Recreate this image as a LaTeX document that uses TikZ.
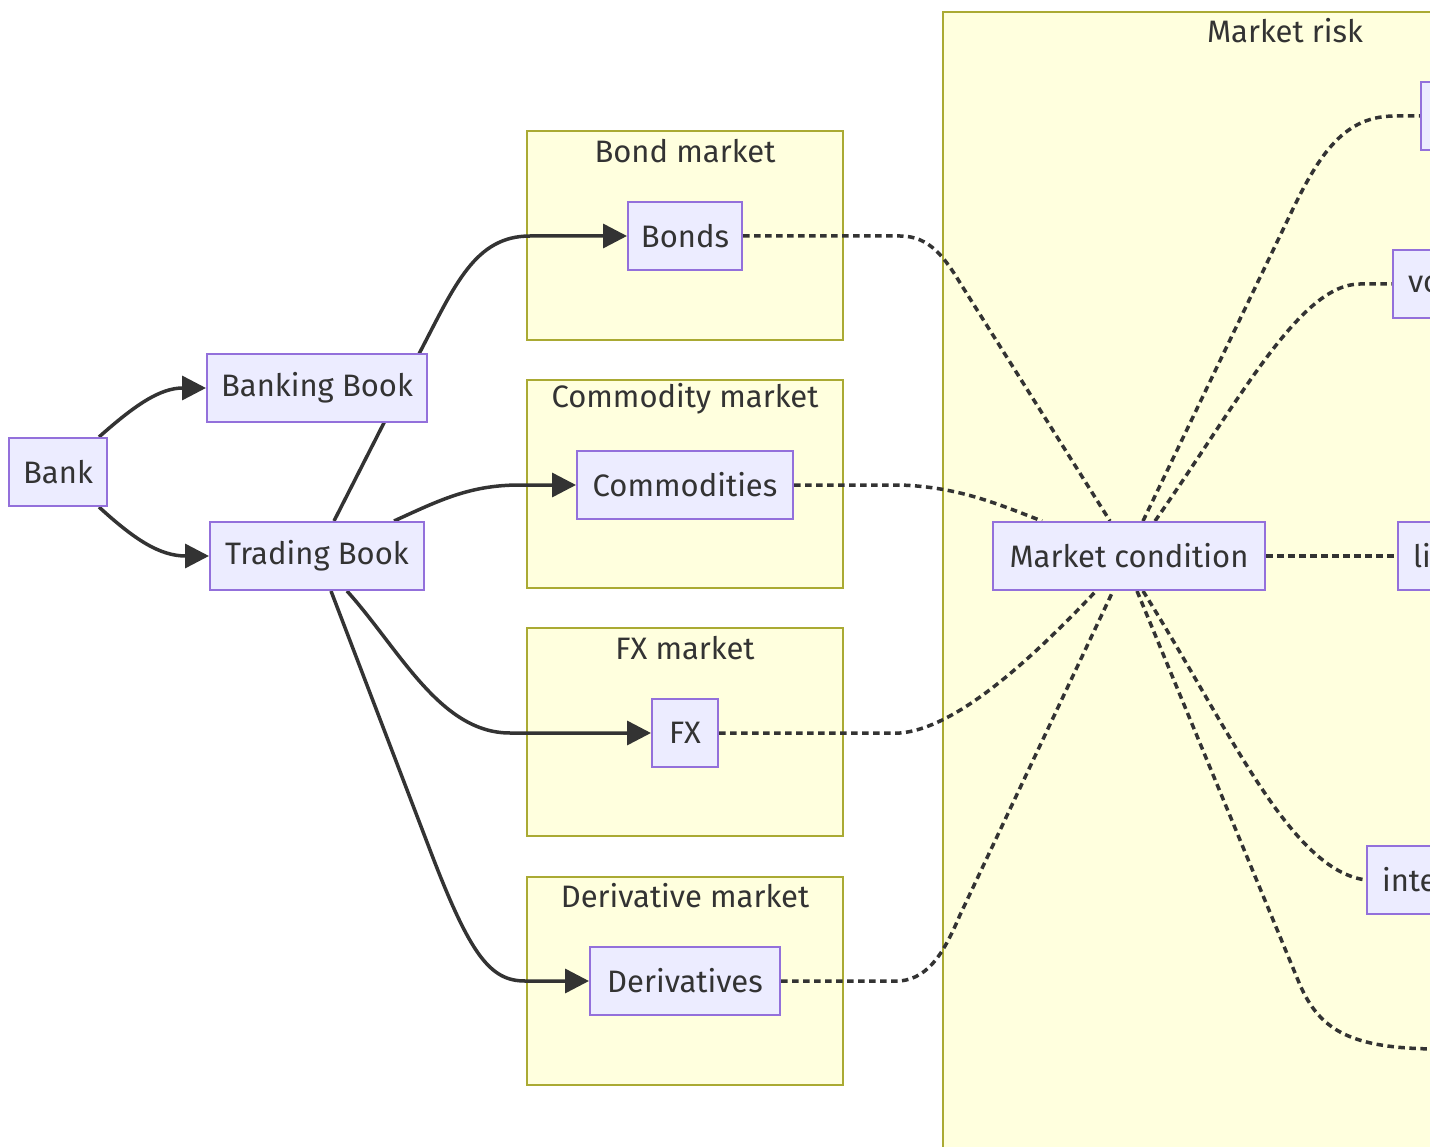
\documentclass[tikz,border=0pt]{standalone}
\usepackage{fontspec}
\setmainfont{Fira Sans}
\usetikzlibrary{arrows.meta,calc}
\pgfdeclarelayer{bg}\pgfdeclarelayer{edges}
\pgfsetlayers{bg,edges,main}
\definecolor{nodefill}{HTML}{ECECFF}
\definecolor{nodeline}{HTML}{9370DB}
\definecolor{clfill}{HTML}{FFFFDE}
\definecolor{clline}{HTML}{AAAA33}
\definecolor{ink}{HTML}{333333}
\tikzset{
  box/.style={draw=nodeline, fill=nodefill, line width=2pt, text=ink,
    font=\fontsize{31}{37}\selectfont, minimum height=68pt, inner xsep=3pt, inner ysep=0pt},
  partbox/.style={box, anchor=west, inner xsep=15pt, text width=150pt, align=left},
  cluster/.style={draw=clline, fill=clfill, line width=1.5pt},
  cltitle/.style={text=ink, font=\fontsize{31}{37}\selectfont, inner sep=0pt},
  link/.style={draw=ink, line width=3.5pt, -{Triangle[length=24pt,width=24pt]}},
  dotlink/.style={draw=ink, line width=3.5pt, dash pattern=on 6.5pt off 4.5pt}
}
\begin{document}
\begin{tikzpicture}[x=1pt,y=-1pt]
\useasboundingbox (0,0) rectangle (1430,1147);
\begin{pgfonlayer}{bg}
\fill[white] (0,0) rectangle (1430,1147);
\draw[cluster] (527,131) rectangle (843,340);
\draw[cluster] (527,380) rectangle (843,588);
\draw[cluster] (527,628) rectangle (843,836);
\draw[cluster] (527,877) rectangle (843,1085);
\draw[cluster] (943,12) rectangle (1627,1200);
\end{pgfonlayer}
\node[cltitle] (t1) at (685,151) {Bond market};
\node[cltitle] (t2) at (685,399) {Commodity market};
\node[cltitle] (t3) at (685,648) {FX market};
\node[cltitle] (t4) at (685,896) {Derivative market};
\node[cltitle] (t5) at (1285,31) {Market risk};

\node[box, minimum width=98pt] (bank) at (58,472) {Bank};
\node[box, minimum width=220pt] (bb) at (317,388) {Banking Book};
\node[box, minimum width=214pt] (tb) at (317,556) {Trading Book};
\node[box, minimum width=114pt] (bonds) at (685,236) {Bonds};
\node[box, minimum width=216pt] (comm) at (685,485) {Commodities};
\node[box, minimum width=66pt] (fx) at (685,733) {FX};
\node[box, minimum width=190pt] (deriv) at (685,981) {Derivatives};
\node[box, minimum width=272pt] (mc) at (1129,556) {Market condition};
\node[partbox] (n1) at (1420,116) {};
\node[partbox] (n2) at (1392,284) {vo};
\node[partbox] (n3) at (1397,556) {li};
\node[partbox] (n4) at (1366,880) {inte};
\coordinate (n5) at (1440,1049);

\begin{pgfonlayer}{edges}
\draw[link] ($(bank.north east)+(-9,0)$) .. controls (135,405) and (160,388) .. (bb.west);
\draw[link] ($(bank.south east)+(-9,0)$) .. controls (135,540) and (160,556) .. (tb.west);
\draw[link] ($(tb.north)+(17,0)$) -- (420,352) .. controls (455,285) and (475,236) .. (530,236) -- (bonds.west);
\draw[link] ($(tb.north east)+(-31,0)$) .. controls (440,500) and (470,485) .. (520,485) -- (comm.west);
\draw[link] ($(tb.south)+(30,0)$) .. controls (400,650) and (440,733) .. (510,733) -- (fx.west);
\draw[link] ($(tb.south)+(14,0)$) -- (430,850) .. controls (470,955) and (490,981) .. (525,981) -- (deriv.west);

\draw[dotlink] (bonds.east) -- (900,236) .. controls (930,236) and (945,258) .. (962,286) -- ($(mc.north)+(-19,0)$);
\draw[dotlink] (comm.east) -- (900,485) .. controls (960,487) and (1000,505) .. ($(mc.north west)+(50,0)$);
\draw[dotlink] (fx.east) -- (900,733) .. controls (960,728) and (1040,650) .. ($(mc.south)+(-33,0)$);
\draw[dotlink] (deriv.east) -- (900,981) .. controls (930,978) and (945,950) .. (960,915) -- ($(mc.south)+(-16,0)$);

\draw[dotlink] ($(mc.north)+(14,0)$) -- (1290,215) .. controls (1320,152) and (1345,116) .. (1395,116) -- (n1.west);
\draw[dotlink] ($(mc.north)+(26,0)$) .. controls (1240,400) and (1300,284) .. (1360,284) -- (n2.west);
\draw[dotlink] (mc.east) -- (n3.west);
\draw[dotlink] ($(mc.south)+(14,0)$) .. controls (1230,730) and (1290,870) .. (n4.west);
\draw[dotlink] ($(mc.south)+(8,0)$) -- (1300,985) .. controls (1320,1030) and (1350,1049) .. (n5);
\end{pgfonlayer}
\end{tikzpicture}
\end{document}
